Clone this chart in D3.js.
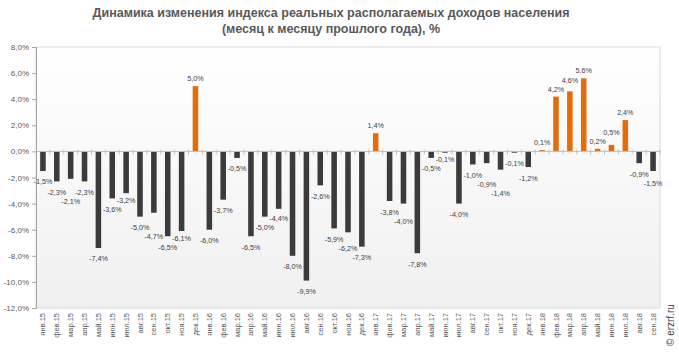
<!DOCTYPE html>
<html>
<head>
<meta charset="utf-8">
<script src="https://cdn.jsdelivr.net/npm/d3@7"></script>
<style>
  body { margin: 0; background: #fff; }
  svg { display: block; font-family: 'Liberation Sans', Arial, sans-serif; }
</style>
</head>
<body>
<div id="chart"></div>
<script>
// months and values (month to same month of previous year), %
const months = [
  'янв.15', 'фев.15', 'мар.15', 'апр.15', 'май.15', 'июн.15', 'июл.15', 'авг.15', 'сен.15', 'окт.15', 'ноя.15', 'дек.15',
  'янв.16', 'фев.16', 'мар.16', 'апр.16', 'май.16', 'июн.16', 'июл.16', 'авг.16', 'сен.16', 'окт.16', 'ноя.16', 'дек.16',
  'янв.17', 'фев.17', 'мар.17', 'апр.17', 'май.17', 'июн.17', 'июл.17', 'авг.17', 'сен.17', 'окт.17', 'ноя.17', 'дек.17',
  'янв.18', 'фев.18', 'мар.18', 'апр.18', 'май.18', 'июн.18', 'июл.18', 'авг.18', 'сен.18'
]
const values = [
  -1.5, -2.3, -2.1, -2.3, -7.4, -3.6, -3.2, -5.0, -4.7, -6.5, -6.1, 5.0,
  -6.0, -3.7, -0.5, -6.5, -5.0, -4.4, -8.0, -9.9, -2.6, -5.9, -6.2, -7.3,
  1.4, -3.8, -4.0, -7.8, -0.5, -0.1, -4.0, -1.0, -0.9, -1.4, -0.1, -1.2,
  0.1, 4.2, 4.6, 5.6, 0.2, 0.5, 2.4, -0.9, -1.5
]
const yTicks = [8, 6, 4, 2, 0, -2, -4, -6, -8, -10, -12]

const width = 679
const height = 354
const margin = { top: 47, left: 36, right: 19, bottom: 46 }
const innerW = width - margin.left - margin.right
const innerH = height - margin.top - margin.bottom

const fmt = v => d3.format('.1f')(v).replace('.', ',').replace('−', '-') + '%'

const svg = d3.select('#chart')
  .append('svg')
  .attr('width', width)
  .attr('height', height)

const defs = svg.append('defs')
const grad = defs.append('linearGradient')
  .attr('id', 'bg')
  .attr('x1', 0).attr('y1', 0).attr('x2', 0).attr('y2', 1)
grad.append('stop').attr('offset', '0%').attr('stop-color', '#ffffff')
grad.append('stop').attr('offset', '100%').attr('stop-color', '#f0f0f0')

// title
svg.append('text')
  .attr('x', 331)
  .attr('y', 17)
  .attr('text-anchor', 'middle')
  .attr('font-size', 12.5)
  .attr('font-weight', 'bold')
  .attr('fill', '#595959')
  .text('Динамика изменения  индекса реальных располагаемых доходов населения')

svg.append('text')
  .attr('x', 331)
  .attr('y', 33)
  .attr('text-anchor', 'middle')
  .attr('font-size', 12.5)
  .attr('font-weight', 'bold')
  .attr('fill', '#595959')
  .text('(месяц к месяцу прошлого года), %')

const g = svg.append('g')
  .attr('transform', 'translate(' + margin.left + ',' + margin.top + ')')

const x = d3.scaleBand()
  .domain(months)
  .range([0, innerW])
  .paddingInner(0.6)
  .paddingOuter(0.3)

const y = d3.scaleLinear()
  .domain([-12, 8])
  .range([innerH, 0])

// plot area
g.append('rect')
  .attr('width', innerW)
  .attr('height', innerH)
  .attr('fill', 'url(#bg)')
  .attr('stroke', '#d9d9d9')
  .attr('stroke-width', 1)

// y axis
const yAxis = d3.axisLeft(y)
  .tickValues(yTicks)
  .tickSize(4)
  .tickFormat(fmt)

g.append('g')
  .attr('class', 'axis y-axis')
  .call(yAxis)
  .call(s => s.select('.domain').attr('stroke', '#a6a6a6'))
  .call(s => s.selectAll('.tick line').attr('stroke', '#a6a6a6'))
  .call(s => s.selectAll('.tick text')
    .attr('font-size', 8)
    .attr('fill', '#595959')
    .attr('font-family', 'Liberation Sans, Arial, sans-serif'))

// bars
g.selectAll('.bar')
  .data(values)
  .enter()
  .append('rect')
  .attr('class', 'bar')
  .attr('x', (d, i) => x(months[i]))
  .attr('width', x.bandwidth())
  .attr('y', d => y(Math.max(0, d)))
  .attr('height', d => Math.abs(y(d) - y(0)))
  .attr('fill', d => d > 0 ? '#e46c0a' : '#3b3b3b')

// zero axis with ticks between categories
const step = x.step()
const zero = g.append('g')
  .attr('transform', 'translate(0,' + y(0) + ')')
zero.append('line')
  .attr('x1', 0).attr('x2', innerW)
  .attr('stroke', '#bfbfbf')
zero.selectAll('.zt')
  .data(months)
  .enter()
  .append('line')
  .attr('class', 'zt')
  .attr('x1', d => x(d) + x.bandwidth() / 2 + step / 2)
  .attr('x2', d => x(d) + x.bandwidth() / 2 + step / 2)
  .attr('y1', -2)
  .attr('y2', 3)
  .attr('stroke', '#bfbfbf')

// data labels, staggered a little where neighbours collide
const labelY = []
values.forEach((v, i) => {
  const prev = labelY[i - 1]
  const prevSameSide = prev !== undefined && (values[i - 1] > 0) === (v > 0)
  let ly
  if (v > 0) {
    ly = y(v) - 5
    if (prevSameSide && Math.abs(ly - prev) < 9) ly = Math.min(ly, prev - 9)
  } else {
    ly = y(v) + 11
    if (prevSameSide && Math.abs(ly - prev) < 9) {
      ly = ly >= prev ? prev + 9 : Math.max(y(v) + 7, prev - 9)
      if (Math.abs(ly - prev) < 9) ly = prev + 9
    }
  }
  labelY.push(ly)
})

g.selectAll('.lbl')
  .data(values)
  .enter()
  .append('text')
  .attr('class', 'lbl')
  .attr('x', (d, i) => x(months[i]) + x.bandwidth() / 2)
  .attr('y', (d, i) => labelY[i])
  .attr('dy', d => d > 0 ? 0 : '0.35em')
  .attr('text-anchor', 'middle')
  .attr('font-size', 7.2)
  .attr('fill', '#404040')
  .text(d => fmt(d))

// month labels
g.selectAll('.mlbl')
  .data(months)
  .enter()
  .append('text')
  .attr('class', 'mlbl')
  .attr('transform', d => 'translate(' + (x(d) + x.bandwidth() / 2 + 2.5) + ',' + (innerH + 5) + ') rotate(-90)')
  .attr('text-anchor', 'end')
  .attr('font-size', 7.5)
  .attr('fill', '#595959')
  .text(d => d)

// watermark
svg.append('text')
  .attr('transform', 'translate(674,346) rotate(-90)')
  .attr('font-size', 10)
  .attr('fill', '#404040')
  .text('© erzrf.ru')
</script>
</body>
</html>
